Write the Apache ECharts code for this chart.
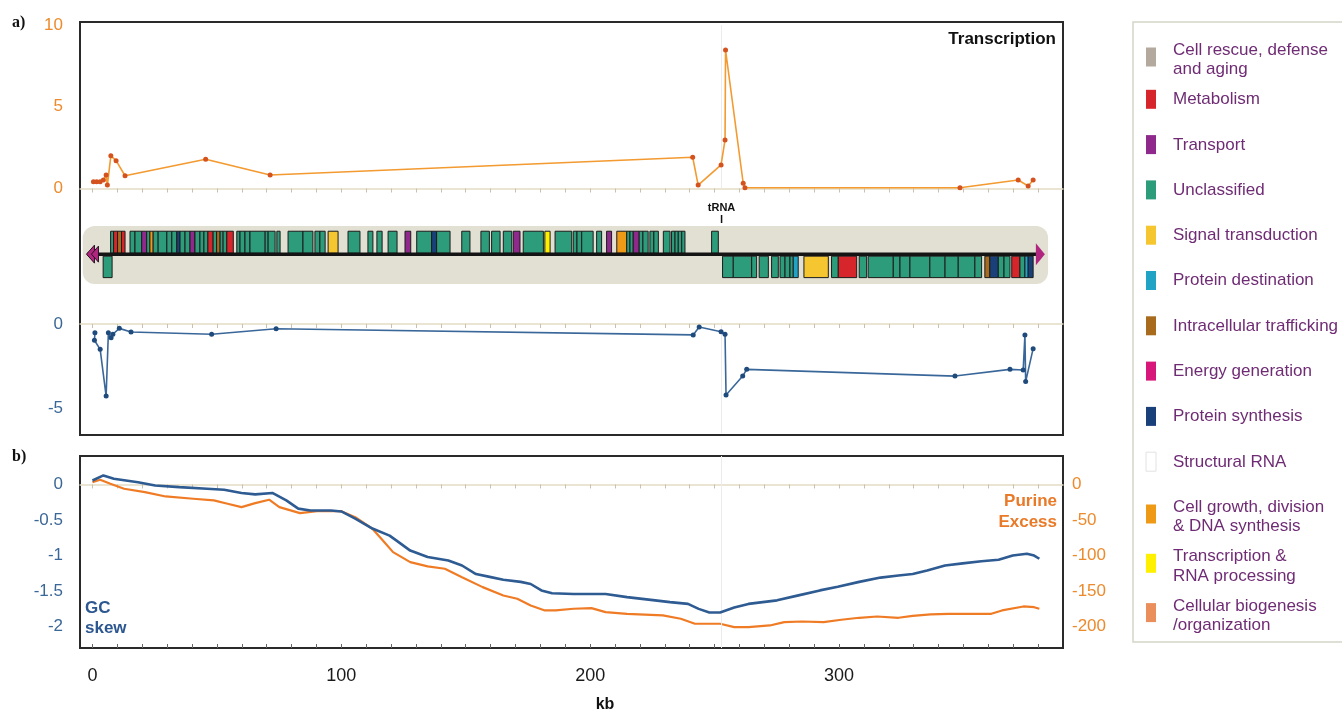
<!DOCTYPE html>
<html><head><meta charset="utf-8">
<script src="https://cdn.jsdelivr.net/npm/echarts@6/dist/echarts.min.js"></script>
<style>html,body{margin:0;padding:0;background:#fff}#c{width:1342px;height:715px}</style>
</head><body><div id="c"></div>
<script>
// ---------------- DATA ----------------
// a) Transcription (orange) : position (kb) and value
const transKb  = [0.4,1.7,3.1,4.4,5.5,6.0,7.4,9.5,13.1,45.5,71.4,241.2,243.4,252.6,254.2,254.4,261.5,262.2,348.6,372.0,376.0,378.0];
const transVal = [0.42,0.42,0.42,0.52,0.83,0.21,2.0,1.7,0.78,1.79,0.83,1.91,0.21,1.44,2.97,8.47,0.32,0.05,0.05,0.52,0.15,0.52];
// a) lower (blue) profile
const lowKb  = [1.0,0.8,3.1,5.5,6.4,7.5,8.2,10.8,15.5,47.9,73.8,241.4,243.8,252.6,254.2,254.6,261.3,262.9,346.6,368.7,374.0,374.7,375.0,378.0];
const lowVal = [-0.52,-0.97,-1.51,-4.29,-0.52,-0.82,-0.61,-0.26,-0.48,-0.61,-0.28,-0.65,-0.18,-0.46,-0.61,-4.23,-3.10,-2.70,-3.10,-2.70,-2.74,-0.65,-3.43,-1.47];
// b) GC skew (blue, left axis)
const gcKb  = [0,4.4,8.6,18.3,25.2,34.9,46.0,52.9,59.9,65.4,72.3,77.9,82.7,87.6,95.9,100.0,105.6,112.5,119.4,122.2,127.7,134.7,143.0,148.5,154.1,159.6,165.1,172.1,176.1,180.4,184.7,193.3,206.2,214.8,223.5,232.1,239.3,243.6,247.9,252.2,257.9,263.6,275.1,283.7,292.3,299.5,308.1,316.7,323.9,329.6,335.4,342.6,349.7,357.2,364.1,369.8,375.5,378.4,380.5];
const gcVal = [0.056,0.127,0.08,0.032,-0.014,-0.038,-0.06,-0.075,-0.12,-0.14,-0.12,-0.225,-0.34,-0.366,-0.366,-0.38,-0.48,-0.62,-0.72,-0.79,-0.93,-1.02,-1.07,-1.14,-1.26,-1.30,-1.34,-1.37,-1.40,-1.49,-1.53,-1.54,-1.54,-1.585,-1.62,-1.655,-1.68,-1.75,-1.80,-1.80,-1.73,-1.68,-1.63,-1.56,-1.49,-1.44,-1.37,-1.31,-1.28,-1.26,-1.21,-1.14,-1.11,-1.08,-1.06,-1.00,-0.975,-1.00,-1.045];
// b) Purine excess (orange, right axis)
const purKb  = [0,3.1,7.2,12.7,21.1,29.4,40.5,48.8,54.3,59.9,65.4,71.0,75.1,83.4,90.3,100.0,105.6,112.5,116.7,120.8,127.7,134.7,141.6,148.5,156.8,165.1,170.7,176.1,181.8,186.1,193.3,200.5,206.2,214.8,229.2,236.4,242.1,252.2,257.9,263.6,272.2,278.0,285.1,293.8,300.9,308.1,315.3,323.9,329.6,336.8,344.0,361.2,365.5,374.1,378.4,380.5];
const purVal = [3.2,6.6,1,-6,-10.8,-16.9,-20.1,-22.5,-27.1,-31.9,-26.3,-21.5,-31.9,-40.4,-37.6,-37.6,-46,-62.3,-78.8,-95.2,-109.3,-115.3,-118.6,-130.4,-144.4,-156.1,-160.8,-170.2,-177.2,-177.2,-174.8,-174,-179.6,-181.9,-184.2,-188.9,-195.9,-195.9,-200.7,-200.7,-198.3,-193.7,-192.7,-193.7,-190.3,-187.5,-185.7,-187.5,-184.7,-182.8,-181.9,-181.9,-177.2,-171.6,-172.6,-174.8];
// gene map: [start kb, end kb, category code]
const upperGenes = [
[7.3,8.5,'U'],[8.5,10.1,'M'],[10.1,11.7,'I'],[11.7,13.1,'M'],
[15.1,17.1,'U'],[17.1,19.8,'U'],[19.8,21.8,'T'],[21.8,23.1,'U'],[23.1,24.4,'G'],[24.4,26.4,'U'],[26.4,29.9,'U'],[29.9,31.9,'U'],[31.9,33.9,'U'],[33.9,35.2,'P'],[35.2,37.2,'U'],[37.2,39.2,'U'],[39.2,41.2,'T'],[41.2,43.2,'U'],[43.2,44.8,'U'],[44.8,46.4,'U'],[46.4,48.5,'M'],[48.5,49.9,'U'],[49.9,51.3,'I'],[51.3,52.5,'U'],[52.5,54.0,'U'],[54.0,56.6,'M'],
[58.0,59.3,'U'],[59.3,61.3,'U'],[61.3,63.3,'U'],[63.3,69.4,'U'],[69.4,70.6,'U'],[70.6,73.4,'U'],[74.1,75.4,'U'],
[78.6,84.6,'U'],[84.6,88.6,'U'],[89.4,91.4,'U'],[91.4,93.5,'U'],[94.7,98.7,'S'],[102.7,107.5,'U'],[110.7,112.7,'U'],[114.3,116.4,'U'],[118.8,122.4,'U'],
[125.6,127.9,'T'],[130.3,136.3,'U'],[136.3,138.3,'P'],[138.3,143.7,'U'],[148.4,151.7,'U'],[156.1,159.5,'U'],[160.4,163.8,'U'],[165.1,168.5,'U'],[169.1,171.8,'T'],[173.1,181.2,'U'],[181.8,183.9,'R'],[185.9,192.6,'U'],[193.2,194.7,'U'],[194.7,196.6,'U'],[196.6,201.2,'U'],[202.6,204.6,'U'],[206.6,208.6,'T'],[210.7,214.7,'G'],[214.7,216.0,'U'],[216.0,217.3,'U'],[217.3,219.7,'T'],[219.7,221.2,'U'],[221.2,223.3,'U'],[224.0,225.6,'U'],[225.6,227.4,'U'],[229.4,232.1,'U'],[232.7,234.1,'U'],[234.1,235.4,'U'],[235.4,236.8,'U'],[236.8,238.1,'U'],
[248.8,251.5,'U']
];
const lowerGenes = [
[4.3,7.9,'U'],
[253.2,257.5,'U'],[257.5,264.9,'U'],[264.9,266.9,'U'],[267.9,271.6,'U'],[272.9,275.6,'U'],[276.3,278.3,'U'],[278.3,280.3,'U'],[280.3,281.6,'U'],[281.6,283.6,'D'],[285.9,295.7,'S'],[297.0,299.7,'U'],[299.7,307.1,'M'],[308.1,311.1,'U'],[311.7,321.8,'U'],[321.8,324.5,'U'],[324.5,328.5,'U'],[328.5,336.5,'U'],[336.5,342.6,'U'],[342.6,347.9,'U'],[347.9,354.6,'U'],[354.6,357.3,'U'],[358.6,360.6,'I'],[360.6,364.0,'P'],[364.0,366.3,'U'],[366.3,368.7,'U'],[369.4,372.7,'M'],[372.7,374.7,'U'],[374.7,376.0,'D'],[376.0,378.0,'P']
];
const tRNAKb = 252.8;
// legend categories
const legendLabels = ['Cell rescue, defense\nand aging','Metabolism','Transport','Unclassified','Signal transduction','Protein destination','Intracellular trafficking','Energy generation','Protein synthesis','Structural RNA','Cell growth, division\n& DNA synthesis','Transcription &\nRNA processing','Cellular biogenesis\n/organization'];
const legendColors = ['#b3aa9d','#d7262b','#8f2a8c','#2d9c7b','#f6c631','#21a3c6','#a86b1d','#d8177a','#1a4079','#ffffff','#ee9a17','#fff000','#ea8f5c'];
const catCodes = {C:0,M:1,T:2,U:3,S:4,D:5,I:6,E:7,P:8,N:9,G:10,R:11,B:12};
// axis tick labels
const xLabelValues = [0,100,200,300];
const transTicks = [0,5,10];
const lowTicks = [-5,0];
const gcTicks = [-2,-1.5,-1,-0.5,0];
const purTicks = [-200,-150,-100,-50,0];

// ---------------- LAYOUT ----------------
const FONT = '"Liberation Sans", Arial, sans-serif';
const XMIN = -5, XMAX = 390, LEFT = 80, WIDTH = 983;
const ticks10 = []; for (let k = 0; k <= 380; k += 10) ticks10.push(k);
const ZERO_C = '#e4dbc4', TICK_C = '#c9c1ae';
const ORANGE_T = '#ec8a2c', BLUE_T = '#3b6797';

function xAx(grid, extra) {
  return Object.assign({type:'value', gridIndex:grid, min:XMIN, max:XMAX,
    splitLine:{show:false}, axisLabel:{show:false}, axisTick:{show:false},
    axisLine:{show:false, onZero:false}}, extra || {});
}
function yAx(grid, extra) {
  return Object.assign({type:'value', gridIndex:grid,
    splitLine:{show:false}, axisTick:{show:false},
    axisLine:{show:false, onZero:false}}, extra || {});
}
const zeroLine = {show:true, onZero:false, lineStyle:{color:ZERO_C, width:1.5}};
const zeroTicks = (inside) => ({show:true, inside:inside, customValues:ticks10, length:4, lineStyle:{color:TICK_C, width:1}});
const faint = (kb) => ({silent:true, symbol:'none', label:{show:false}, lineStyle:{color:'#ececec', width:1, type:'solid'}, data:[{xAxis:kb}]});
const tickLabel = (color, margin) => ({color:color, fontSize:17, margin:margin, fontFamily:FONT});

const BAND_X0 = -3.9, BAND_X1 = 384, LINE_X0 = -2, LINE_X1 = 379.5;

const option = {
  animation:false,
  backgroundColor:'#ffffff',
  grid:[
    {left:LEFT, top:22, width:WIDTH, height:413, show:true, borderColor:'#2a2a2a', borderWidth:2, backgroundColor:'transparent'},
    {left:LEFT, top:25, width:WIDTH, height:163.5},
    {left:LEFT, top:226, width:WIDTH, height:58},
    {left:LEFT, top:324, width:WIDTH, height:109.2},
    {left:LEFT, top:456, width:WIDTH, height:192, show:true, borderColor:'#2a2a2a', borderWidth:2, backgroundColor:'transparent'}
  ],
  xAxis:[
    xAx(0, {show:false}),
    xAx(1, {position:'bottom', axisLine:zeroLine, axisTick:zeroTicks(false)}),
    xAx(2, {show:false}),
    xAx(3, {position:'top', axisLine:zeroLine, axisTick:zeroTicks(true)}),
    xAx(4, {position:'bottom',
      axisTick:{show:true, inside:true, customValues:ticks10, length:4, lineStyle:{color:'#666'}},
      axisLabel:{show:true, customValues:xLabelValues, fontSize:18, color:'#1a1a1a', margin:19, fontFamily:FONT}}),
    xAx(4, {position:'top', axisLine:{show:true, onZero:true, lineStyle:{color:ZERO_C, width:1.5}}, axisTick:zeroTicks(true)})
  ],
  yAxis:[
    yAx(0, {show:false, min:0, max:1}),
    yAx(1, {min:0, max:10, axisLabel:Object.assign({customValues:transTicks}, tickLabel(ORANGE_T, 17))}),
    yAx(2, {show:false, min:-1, max:1}),
    yAx(3, {min:-6.5, max:0, axisLabel:Object.assign({customValues:lowTicks}, tickLabel(BLUE_T, 17))}),
    yAx(4, {min:-2.3, max:0.4, axisLabel:Object.assign({customValues:gcTicks}, tickLabel(BLUE_T, 17))}),
    yAx(4, {position:'right', min:-230, max:40, axisLabel:Object.assign({customValues:purTicks}, tickLabel(ORANGE_T, 9))})
  ],
  series:[
    {type:'line', name:'Transcription', xAxisIndex:1, yAxisIndex:1, clip:false, z:5,
      data:transKb.map((k,i)=>[k, transVal[i]]),
      symbol:'circle', symbolSize:5, itemStyle:{color:'#d4521d'}, lineStyle:{color:'#f39a30', width:1.6},
      markLine:faint(tRNAKb)},
    {type:'custom', name:'band', xAxisIndex:2, yAxisIndex:2, z:1, silent:true, clip:false, data:[[0]],
      renderItem:(params, api) => {
        const p0 = api.coord([BAND_X0, 1]), p1 = api.coord([BAND_X1, -1]);
        return {type:'rect', shape:{x:p0[0], y:p0[1], width:p1[0]-p0[0], height:p1[1]-p0[1], r:12}, style:{fill:'#e2dfd3'}};
      }},
    {type:'custom', name:'genes', xAxisIndex:2, yAxisIndex:2, z:2, clip:false,
      data:upperGenes.map(g=>[g[0], g[1], 1, catCodes[g[2]]]).concat(lowerGenes.map(g=>[g[0], g[1], -1, catCodes[g[2]]])),
      encode:{x:[0,1], y:2},
      renderItem:(params, api) => {
        const s = api.value(0), e = api.value(1), st = api.value(2), c = api.value(3);
        const a = api.coord([s, st > 0 ? 0.06 : -0.04]), b = api.coord([e, st > 0 ? 0.82 : -0.78]);
        return {type:'rect', shape:{x:a[0], y:Math.min(a[1], b[1]), width:b[0]-a[0], height:Math.abs(b[1]-a[1])},
          style:{fill:legendColors[c], stroke:'#1c1c1c', lineWidth:1}};
      }},
    {type:'custom', name:'backbone', xAxisIndex:2, yAxisIndex:2, z:3, silent:true, clip:false, data:[[0]],
      renderItem:(params, api) => {
        const l0 = api.coord([LINE_X0, 0.03]), l1 = api.coord([LINE_X1, 0.03]);
        const y = l0[1];
        const t = api.coord([tRNAKb, 1]);
        const mag = '#b0267f';
        return {type:'group', children:[
          {type:'line', shape:{x1:l0[0], y1:y, x2:l1[0], y2:y}, style:{stroke:'#141414', lineWidth:3.5}},
          {type:'polygon', shape:{points:[[l0[0]-1, y],[l0[0]+7, y-9],[l0[0]+7, y+9]]}, style:{fill:mag, stroke:'#2a1025', lineWidth:1}},
          {type:'polygon', shape:{points:[[l0[0]+4, y],[l0[0]+11, y-8],[l0[0]+11, y+8]]}, style:{fill:mag, stroke:'#2a1025', lineWidth:1}},
          {type:'polygon', shape:{points:[[l1[0]+8, y],[l1[0]-1, y-11],[l1[0]-1, y+11]]}, style:{fill:mag}},
          {type:'line', shape:{x1:t[0], y1:t[1]-11, x2:t[0], y2:t[1]-3}, style:{stroke:'#111', lineWidth:1.5}},
          {type:'text', style:{text:'tRNA', x:t[0], y:t[1]-18, align:'center', verticalAlign:'middle', font:'bold 11px ' + FONT, fill:'#111'}}
        ]};
      }},
    {type:'line', name:'lower', xAxisIndex:3, yAxisIndex:3, clip:false, z:5,
      data:lowKb.map((k,i)=>[k, lowVal[i]]),
      symbol:'circle', symbolSize:5, itemStyle:{color:'#1f4a7c'}, lineStyle:{color:'#3a679a', width:1.6},
      markLine:faint(tRNAKb)},
    {type:'line', name:'GC skew', xAxisIndex:4, yAxisIndex:4, z:5, symbol:'none',
      data:gcKb.map((k,i)=>[k, gcVal[i]]),
      lineStyle:{color:'#2e5b92', width:2.6}, markLine:faint(tRNAKb)},
    {type:'line', name:'Purine Excess', xAxisIndex:4, yAxisIndex:5, z:4, symbol:'none',
      data:purKb.map((k,i)=>[k, purVal[i]]),
      lineStyle:{color:'#ef7b25', width:2.2}}
  ],
  graphic:[]
};

// texts
const g = option.graphic;
g.push({type:'text', left:12, top:15, style:{text:'a)', font:'bold 16px "Liberation Serif", "DejaVu Serif", serif', fill:'#111'}});
g.push({type:'text', left:12, top:449, style:{text:'b)', font:'bold 16px "Liberation Serif", "DejaVu Serif", serif', fill:'#111'}});
g.push({type:'text', x:1056, y:39, style:{text:'Transcription', align:'right', verticalAlign:'middle', font:'bold 17px ' + FONT, fill:'#111'}});
g.push({type:'text', x:85, y:598, style:{text:'GC\nskew', align:'left', verticalAlign:'top', lineHeight:20, font:'bold 17px ' + FONT, fill:'#2c5790'}});
g.push({type:'text', x:1057, y:491, style:{text:'Purine\nExcess', align:'right', verticalAlign:'top', lineHeight:21, font:'bold 17px ' + FONT, fill:'#e97a28'}});
g.push({type:'text', x:605, y:705, style:{text:'kb', align:'center', verticalAlign:'middle', font:'bold 16px ' + FONT, fill:'#111'}});
// legend
g.push({type:'rect', shape:{x:1133, y:22, width:240, height:620}, style:{fill:'none', stroke:'#d3d6c8', lineWidth:1.5}, z:0});
let ly = 50;
legendLabels.forEach((lab, i) => {
  const lines = lab.split('\n').length;
  const cy = lines > 1 ? ly + 7 : ly;
  g.push({type:'rect', shape:{x:1146, y:cy - 9.5, width:10, height:19},
    style:{fill:legendColors[i], stroke:i === 9 ? '#e2e2e2' : 'none', lineWidth:1}});
  g.push({type:'text', x:1173, y:ly - 9.5, style:{text:lab, align:'left', verticalAlign:'top', lineHeight:19.5, font:'17px ' + FONT, fill:'#6f2c74'}});
  ly += 45.3 + (lines > 1 ? 4 : 0);
});

const chart = echarts.init(document.getElementById('c'), null, {renderer:'canvas'});
chart.setOption(option);
</script></body></html>
